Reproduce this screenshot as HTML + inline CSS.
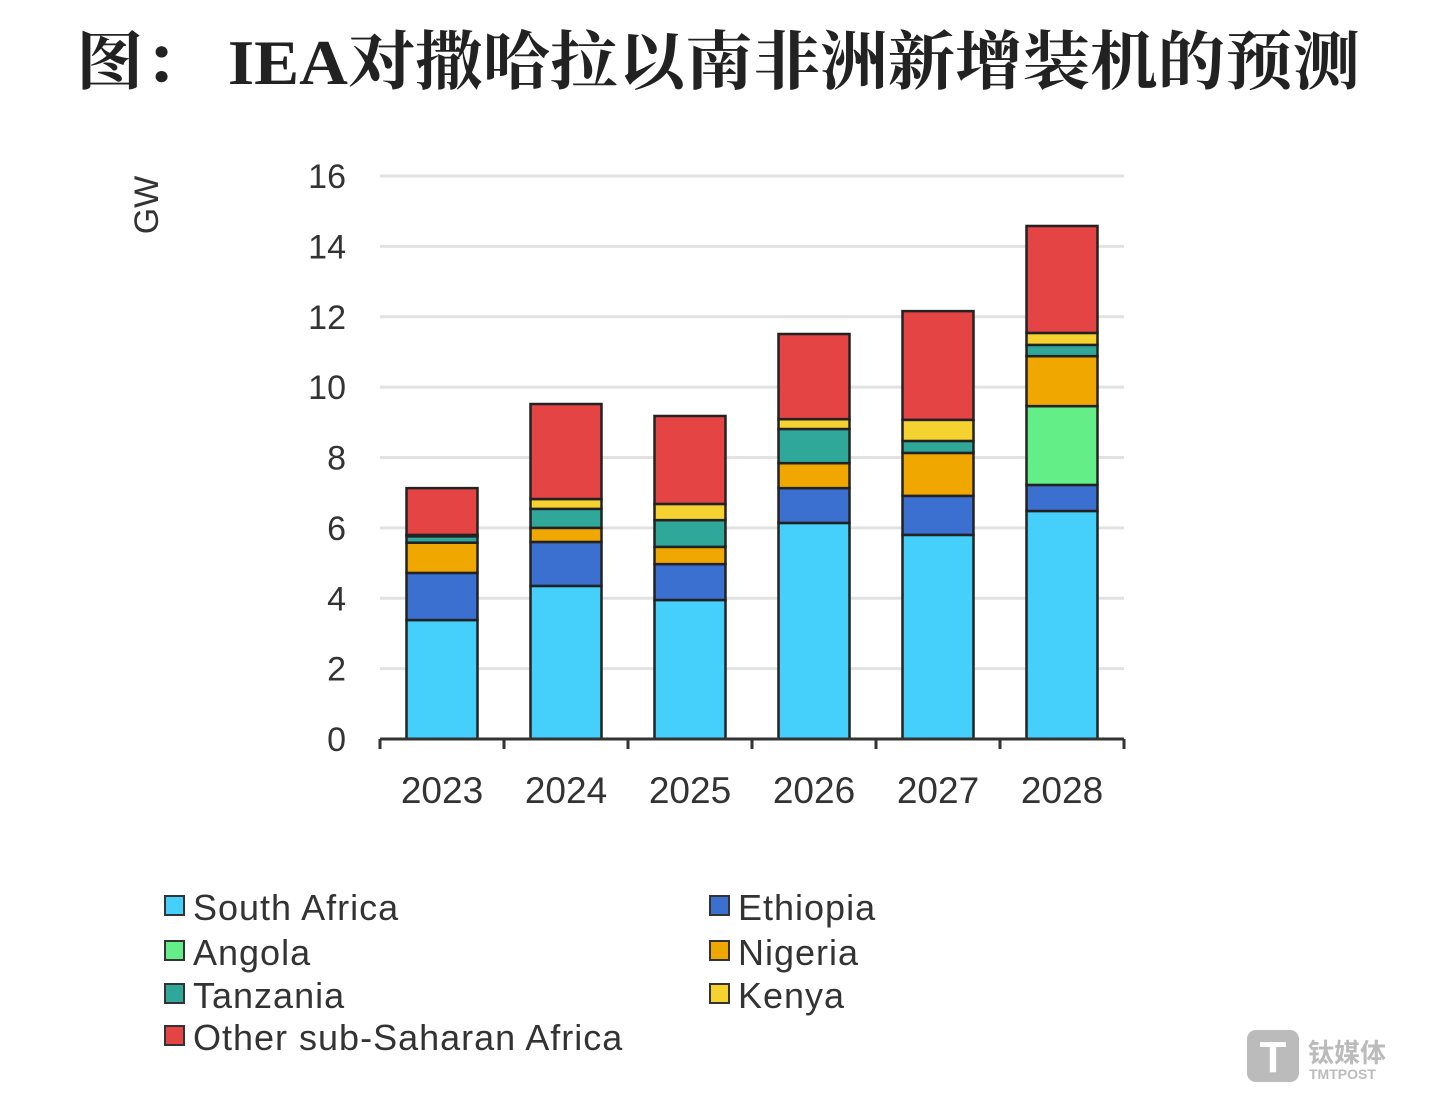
<!DOCTYPE html>
<html><head><meta charset="utf-8"><style>
body{margin:0;width:1440px;height:1109px;background:#fff;overflow:hidden;font-family:"Liberation Sans","Noto Sans CJK SC",sans-serif}
</style></head><body>
<svg width="1440" height="1109" viewBox="0 0 1440 1109">
<text x="76" y="84" textLength="1284" lengthAdjust="spacingAndGlyphs" font-family="'Liberation Serif','Noto Serif CJK SC',serif" font-weight="bold" font-size="64" fill="#222">图： IEA对撒哈拉以南非洲新增装机的预测</text>
<text transform="translate(158,205) rotate(-90)" text-anchor="middle" font-size="34" fill="#333">GW</text>
<g id="grid"></g><g id="bars"></g><g id="axis"></g><g id="legend"></g>
<g>
<rect x="1247" y="1030" width="52" height="52" rx="9" fill="#bbb"/>
<text x="1273" y="1072" text-anchor="middle" font-size="44" font-weight="bold" fill="#fff">T</text>
<text x="1308" y="1062" font-size="26" font-weight="bold" fill="#bbb">钛媒体</text>
<text x="1309" y="1079" font-size="14" font-weight="bold" fill="#bbb">TMTPOST</text>
</g>
</svg>
<script>
const years=["2023","2024","2025","2026","2027","2028"];
const seriesNames=["South Africa","Ethiopia","Angola","Nigeria","Tanzania","Kenya","Other sub-Saharan Africa"];
const southAfrica=[3.38,4.35,3.95,6.14,5.8,6.48];
const ethiopia=[1.34,1.25,1.02,0.99,1.11,0.74];
const angola=[0,0,0,0,0,2.24];
const nigeria=[0.86,0.4,0.49,0.71,1.22,1.42];
const tanzania=[0.18,0.54,0.76,0.97,0.34,0.32];
const kenya=[0.04,0.28,0.46,0.28,0.6,0.34];
const other=[1.33,2.7,2.5,2.42,3.09,3.04];
const yTicks=[0,2,4,6,8,10,12,14,16];
const colors=["#45d0fb","#3b6fd0","#63ee88","#f0a800","#2fa89a","#f6d230","#e44444"];
const NS="http://www.w3.org/2000/svg";
const x0=380,x1=1124,yb=739,yt=176,ymax=16;
const band=(x1-x0)/years.length,bw=71;
const Y=v=>yb-(v/ymax)*(yb-yt);
const X=i=>x0+(i+0.5)*band;
function mk(t,a,p){const e=document.createElementNS(NS,t);for(const k in a)e.setAttribute(k,a[k]);p.appendChild(e);return e;}
const grid=document.getElementById('grid'),bars=document.getElementById('bars'),axis=document.getElementById('axis'),legend=document.getElementById('legend');
yTicks.forEach(v=>{
 if(v>0){const l=mk('line',{x1:x0,x2:x1,y1:Y(v),y2:Y(v),stroke:'#e2e2e2','stroke-width':3},grid);
 
 }
 const t=mk('text',{x:346,y:Y(v)+12,'text-anchor':'end','font-size':34,fill:'#333'},axis);t.textContent=v;
 
 
});
const all=[southAfrica,ethiopia,angola,nigeria,tanzania,kenya,other];
years.forEach((yr,i)=>{
 let acc=0;
 all.forEach((s,k)=>{
  const v=s[i];if(v<=0)return;
  const r=mk('rect',{x:X(i)-bw/2,y:Y(acc+v),width:bw,height:Y(acc)-Y(acc+v),fill:colors[k],stroke:'#222','stroke-width':2.5},bars);
  
  
  acc+=v;
 });
 const t=mk('text',{x:X(i),y:803,'text-anchor':'middle','font-size':37,fill:'#333'},axis);t.textContent=yr;
 
 
});
const ax=mk('line',{x1:x0,x2:x1,y1:yb,y2:yb,stroke:'#333','stroke-width':3},axis);


for(let i=0;i<=years.length;i++){mk('line',{x1:x0+i*band,x2:x0+i*band,y1:yb,y2:yb+10,stroke:'#333','stroke-width':3},axis);}
const order=[0,1,2,3,4,5,6];
const pos=[[165,908],[710,908],[165,953],[710,953],[165,996],[710,996],[165,1038]];
order.forEach((k,j)=>{
 const g=mk('g',{},legend);
 
 
 const [lx,ly]=pos[j];
 mk('rect',{x:lx,y:ly-12,width:19,height:19,fill:colors[k],stroke:'#333','stroke-width':2},g);
 const t=mk('text',{x:lx+28,y:ly+12,'font-size':36,'letter-spacing':1,fill:'#333'},g);t.textContent=seriesNames[k];
});
</script>
</body></html>
